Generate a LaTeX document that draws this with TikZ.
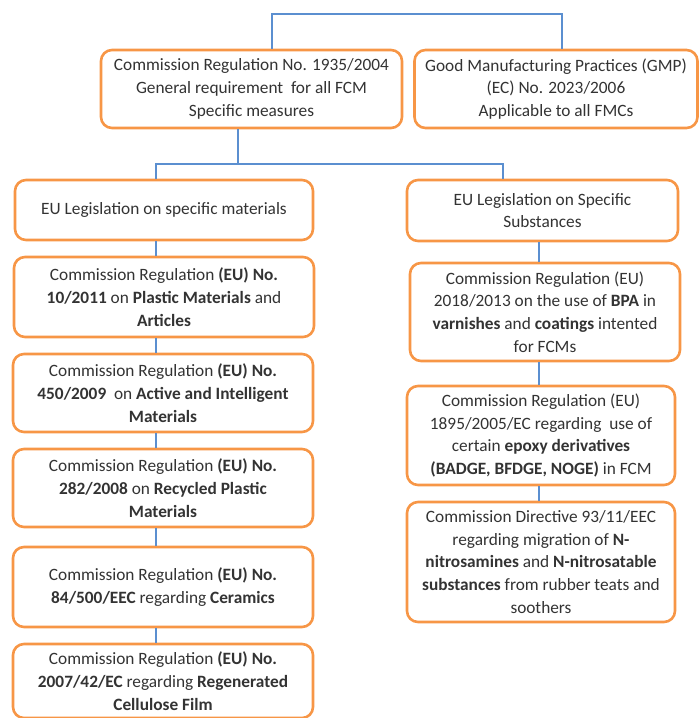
\documentclass[tikz,border=0pt]{standalone}
\usepackage{fontspec}
\setmainfont{Carlito}
\definecolor{boxorange}{HTML}{F79646}
\definecolor{linkblue}{HTML}{5B8FD0}
\definecolor{txtgray}{HTML}{333333}
\begin{document}
\begin{tikzpicture}[x=1pt,y=-1pt,
  box/.style={draw=boxorange, line width=2.6pt, rounded corners=11pt, fill=white,
    align=center, inner sep=0pt, text=txtgray,
    font=\fontsize{17.3}{22.7}\selectfont},
  link/.style={draw=linkblue, line width=1.1pt}]
\useasboundingbox (0,0) rectangle (700,718);

% top level
\node[box, minimum width=301pt, minimum height=78pt] (reg1935) at (251.5,89)
  {Commission Regulation No. 1935/2004\\ General requirement\ \ for all FCM\\ Specific measures};
\node[box, minimum width=283pt, minimum height=78pt] (gmp) at (556,89)
  {Good Manufacturing Practices (GMP)\\ (EC) No. 2023/2006\\ Applicable to all FMCs};

% second level
\node[box, minimum width=298pt, minimum height=60pt] (mat) at (164,210)
  {EU Legislation on specific materials};
\node[box, minimum width=271pt, minimum height=61pt] (sub) at (542.5,210.5)
  {EU Legislation on Specific\\ Substances};

% materials column
\node[box, minimum width=300pt, minimum height=80pt] (plast) at (164,297)
  {Commission Regulation \textbf{(EU) No.}\\ \textbf{10/2011} on \textbf{Plastic Materials} and\\ \textbf{Articles}};
\node[box, minimum width=300pt, minimum height=78pt] (active) at (163,393)
  {Commission Regulation \textbf{(EU) No.}\\ \textbf{450/2009}\ \ on \textbf{Active and Intelligent}\\ \textbf{Materials}};
\node[box, minimum width=300pt, minimum height=78pt] (recyc) at (163,488)
  {Commission Regulation \textbf{(EU) No.}\\ \textbf{282/2008} on \textbf{Recycled Plastic}\\ \textbf{Materials}};
\node[box, minimum width=300pt, minimum height=80pt] (ceram) at (163,587)
  {Commission Regulation \textbf{(EU) No.}\\ \textbf{84/500/EEC} regarding \textbf{Ceramics}};
\node[box, minimum width=300pt, minimum height=74pt] (cell) at (163,681)
  {Commission Regulation \textbf{(EU) No.}\\ \textbf{2007/42/EC} regarding \textbf{Regenerated}\\ \textbf{Cellulose Film}};

% substances column
\node[box, minimum width=270pt, minimum height=98pt] (bpa) at (545,312)
  {Commission Regulation (EU)\\ 2018/2013 on the use of \textbf{BPA} in\\ \textbf{varnishes} and \textbf{coatings} intented\\ for FCMs};
\node[box, minimum width=268pt, minimum height=99pt] (epoxy) at (541,435.5)
  {Commission Regulation (EU)\\ 1895/2005/EC regarding\ \ use of\\ certain \textbf{epoxy derivatives}\\ \textbf{(BADGE, BFDGE, NOGE)} in FCM};
\node[box, minimum width=268pt, minimum height=120pt] (nitro) at (541,562)
  {Commission Directive 93/11/EEC\\ regarding migration of \textbf{N-}\\ \textbf{nitrosamines} and \textbf{N-nitrosatable}\\ \textbf{substances} from rubber\ teats and\\ soothers};

% connectors
\coordinate (tl) at (272,14);
\coordinate (tr) at (562,14);
\coordinate (mc) at (238,164);
\coordinate (ml) at (156,164);
\coordinate (mr) at (503,164);
\coordinate (rc) at (539,0);
\draw[link] (reg1935.north -| tl) -- (tl) -- (tr) -- (tr |- gmp.north);
\draw[link] (reg1935.south -| mc) -- (mc);
\draw[link] (mat.north -| ml) -- (ml) -- (mr) -- (sub.north -| mr);
\foreach \a/\b in {mat/plast, plast/active, active/recyc, recyc/ceram, ceram/cell}
  \draw[link] (\a.south -| ml) -- (\b.north -| ml);
\foreach \a/\b in {sub/bpa, bpa/epoxy, epoxy/nitro}
  \draw[link] (\a.south -| rc) -- (\b.north -| rc);
\end{tikzpicture}
\end{document}
